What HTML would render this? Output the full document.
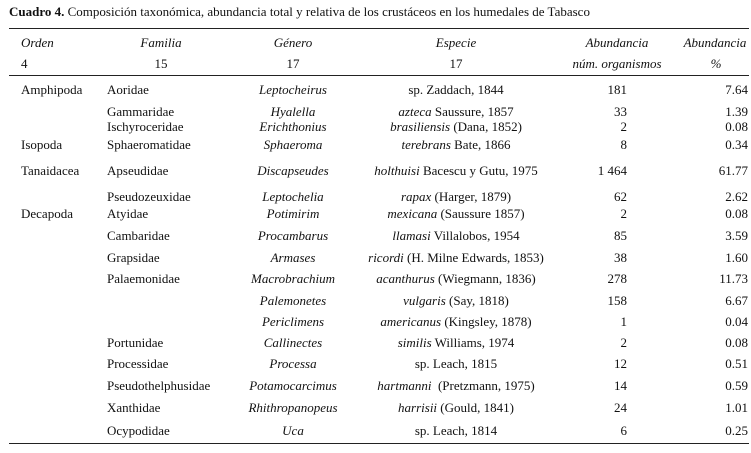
<!DOCTYPE html>
<html><head><meta charset="utf-8"><style>
body{margin:0;width:751px;height:453px;background:#fff;position:relative;overflow:hidden;font-family:"Liberation Serif",serif;font-size:13px;color:#111}
.t{position:absolute;white-space:nowrap;line-height:14px}
.c{transform:translateX(-50%)}
.r{transform:translateX(-100%)}
i{font-style:italic}
.hr{position:absolute;left:9px;width:740px;height:1px;background:#222}
</style></head><body>
<div class="t" style="left:9px;top:5px"><b>Cuadro 4.</b> Composición taxonómica, abundancia total y relativa de los crustáceos en los humedales de Tabasco</div>
<div class="hr" style="top:28px"></div>
<div class="hr" style="top:75px"></div>
<div class="hr" style="top:443px"></div>
<div class="t" style="left:21px;top:36px"><i>Orden</i></div>
<div class="t c" style="left:161px;top:36px"><i>Familia</i></div>
<div class="t c" style="left:293px;top:36px"><i>Género</i></div>
<div class="t c" style="left:456px;top:36px"><i>Especie</i></div>
<div class="t c" style="left:617px;top:36px"><i>Abundancia</i></div>
<div class="t c" style="left:715px;top:36px"><i>Abundancia</i></div>
<div class="t" style="left:21px;top:57px">4</div>
<div class="t c" style="left:161px;top:57px">15</div>
<div class="t c" style="left:293px;top:57px">17</div>
<div class="t c" style="left:456px;top:57px">17</div>
<div class="t c" style="left:617px;top:57px"><i>núm. organismos</i></div>
<div class="t c" style="left:716px;top:57px"><i>%</i></div>
<div id="rows"></div>
<script></script>
<div class="t" style="left:21px;top:83px">Amphipoda</div>
<div class="t" style="left:21px;top:138px">Isopoda</div>
<div class="t" style="left:21px;top:164px">Tanaidacea</div>
<div class="t" style="left:21px;top:207px">Decapoda</div>

<div class="t" style="left:107px;top:83px">Aoridae</div>
<div class="t c" style="left:293px;top:83px"><i>Leptocheirus</i></div>
<div class="t c" style="left:456px;top:83px">sp. Zaddach, 1844</div>
<div class="t r" style="left:627px;top:83px">181</div>
<div class="t r" style="left:748px;top:83px">7.64</div>

<div class="t" style="left:107px;top:105px">Gammaridae</div>
<div class="t c" style="left:293px;top:105px"><i>Hyalella</i></div>
<div class="t c" style="left:456px;top:105px"><i>azteca</i> Saussure, 1857</div>
<div class="t r" style="left:627px;top:105px">33</div>
<div class="t r" style="left:748px;top:105px">1.39</div>

<div class="t" style="left:107px;top:120px">Ischyroceridae</div>
<div class="t c" style="left:293px;top:120px"><i>Erichthonius</i></div>
<div class="t c" style="left:456px;top:120px"><i>brasiliensis</i> (Dana, 1852)</div>
<div class="t r" style="left:627px;top:120px">2</div>
<div class="t r" style="left:748px;top:120px">0.08</div>

<div class="t" style="left:107px;top:138px">Sphaeromatidae</div>
<div class="t c" style="left:293px;top:138px"><i>Sphaeroma</i></div>
<div class="t c" style="left:456px;top:138px"><i>terebrans</i> Bate, 1866</div>
<div class="t r" style="left:627px;top:138px">8</div>
<div class="t r" style="left:748px;top:138px">0.34</div>

<div class="t" style="left:107px;top:164px">Apseudidae</div>
<div class="t c" style="left:293px;top:164px"><i>Discapseudes</i></div>
<div class="t c" style="left:456px;top:164px"><i>holthuisi</i> Bacescu y Gutu, 1975</div>
<div class="t r" style="left:627px;top:164px">1 464</div>
<div class="t r" style="left:748px;top:164px">61.77</div>

<div class="t" style="left:107px;top:190px">Pseudozeuxidae</div>
<div class="t c" style="left:293px;top:190px"><i>Leptochelia</i></div>
<div class="t c" style="left:456px;top:190px"><i>rapax</i> (Harger, 1879)</div>
<div class="t r" style="left:627px;top:190px">62</div>
<div class="t r" style="left:748px;top:190px">2.62</div>

<div class="t" style="left:107px;top:207px">Atyidae</div>
<div class="t c" style="left:293px;top:207px"><i>Potimirim</i></div>
<div class="t c" style="left:456px;top:207px"><i>mexicana</i> (Saussure 1857)</div>
<div class="t r" style="left:627px;top:207px">2</div>
<div class="t r" style="left:748px;top:207px">0.08</div>

<div class="t" style="left:107px;top:229px">Cambaridae</div>
<div class="t c" style="left:293px;top:229px"><i>Procambarus</i></div>
<div class="t c" style="left:456px;top:229px"><i>llamasi</i> Villalobos, 1954</div>
<div class="t r" style="left:627px;top:229px">85</div>
<div class="t r" style="left:748px;top:229px">3.59</div>

<div class="t" style="left:107px;top:251px">Grapsidae</div>
<div class="t c" style="left:293px;top:251px"><i>Armases</i></div>
<div class="t c" style="left:456px;top:251px"><i>ricordi</i> (H. Milne Edwards, 1853)</div>
<div class="t r" style="left:627px;top:251px">38</div>
<div class="t r" style="left:748px;top:251px">1.60</div>

<div class="t" style="left:107px;top:272px">Palaemonidae</div>
<div class="t c" style="left:293px;top:272px"><i>Macrobrachium</i></div>
<div class="t c" style="left:456px;top:272px"><i>acanthurus</i> (Wiegmann, 1836)</div>
<div class="t r" style="left:627px;top:272px">278</div>
<div class="t r" style="left:748px;top:272px">11.73</div>

<div class="t c" style="left:293px;top:294px"><i>Palemonetes</i></div>
<div class="t c" style="left:456px;top:294px"><i>vulgaris</i> (Say, 1818)</div>
<div class="t r" style="left:627px;top:294px">158</div>
<div class="t r" style="left:748px;top:294px">6.67</div>

<div class="t c" style="left:293px;top:315px"><i>Periclimens</i></div>
<div class="t c" style="left:456px;top:315px"><i>americanus</i> (Kingsley, 1878)</div>
<div class="t r" style="left:627px;top:315px">1</div>
<div class="t r" style="left:748px;top:315px">0.04</div>

<div class="t" style="left:107px;top:336px">Portunidae</div>
<div class="t c" style="left:293px;top:336px"><i>Callinectes</i></div>
<div class="t c" style="left:456px;top:336px"><i>similis</i> Williams, 1974</div>
<div class="t r" style="left:627px;top:336px">2</div>
<div class="t r" style="left:748px;top:336px">0.08</div>

<div class="t" style="left:107px;top:357px">Processidae</div>
<div class="t c" style="left:293px;top:357px"><i>Processa</i></div>
<div class="t c" style="left:456px;top:357px">sp. Leach, 1815</div>
<div class="t r" style="left:627px;top:357px">12</div>
<div class="t r" style="left:748px;top:357px">0.51</div>

<div class="t" style="left:107px;top:379px">Pseudothelphusidae</div>
<div class="t c" style="left:293px;top:379px"><i>Potamocarcimus</i></div>
<div class="t c" style="left:456px;top:379px"><i>hartmanni</i> &nbsp;(Pretzmann, 1975)</div>
<div class="t r" style="left:627px;top:379px">14</div>
<div class="t r" style="left:748px;top:379px">0.59</div>

<div class="t" style="left:107px;top:401px">Xanthidae</div>
<div class="t c" style="left:293px;top:401px"><i>Rhithropanopeus</i></div>
<div class="t c" style="left:456px;top:401px"><i>harrisii</i> (Gould, 1841)</div>
<div class="t r" style="left:627px;top:401px">24</div>
<div class="t r" style="left:748px;top:401px">1.01</div>

<div class="t" style="left:107px;top:424px">Ocypodidae</div>
<div class="t c" style="left:293px;top:424px"><i>Uca</i></div>
<div class="t c" style="left:456px;top:424px">sp. Leach, 1814</div>
<div class="t r" style="left:627px;top:424px">6</div>
<div class="t r" style="left:748px;top:424px">0.25</div>
</body></html>
